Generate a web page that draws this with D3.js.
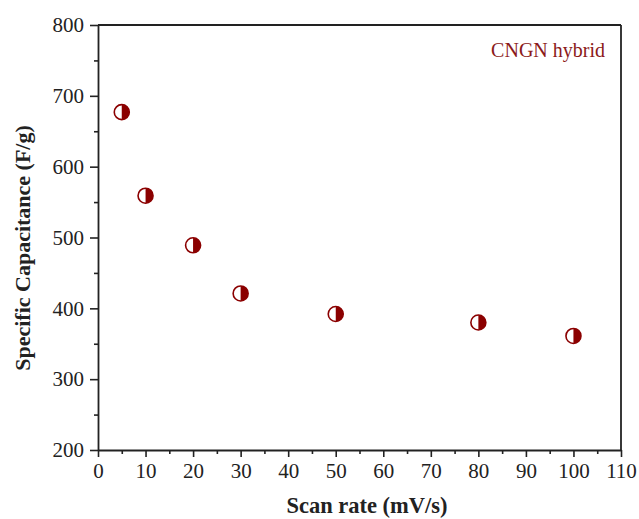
<!DOCTYPE html>
<html><head><meta charset="utf-8">
<script src="https://cdn.jsdelivr.net/npm/d3@7"></script>
<style>body{margin:0;background:#fff}svg{display:block}text{font-family:"Liberation Serif","Times New Roman",serif}</style>
</head><body>
<svg id="c" width="639" height="519"></svg>
<script>
const scanRate = [5, 10, 20, 30, 50, 80, 100];
const capacitance = [677, 559, 489, 421, 392, 380, 361];
const xTicks = [0,10,20,30,40,50,60,70,80,90,100,110];
const yTicks = [200,300,400,500,600,700,800];
const seriesName = "CNGN hybrid";

const svg = d3.select("#c");
const L = 98, R = 621, T = 25, B = 450;
const x = d3.scaleLinear().domain([0,110]).range([L,R]);
const y = d3.scaleLinear().domain([200,800]).range([B,T]);
const red = "#8b0000";

// minor ticks
const xMinor = d3.range(5,110,10);
const yMinor = d3.range(250,800,100);
svg.append("g").attr("transform",`translate(0,${B})`)
  .call(d3.axisBottom(x).tickValues(xMinor).tickSize(4).tickFormat(""))
  .call(g=>g.select(".domain").remove())
  .selectAll("line").attr("stroke","#222").attr("stroke-width",1.6);
svg.append("g").attr("transform",`translate(${L},0)`)
  .call(d3.axisLeft(y).tickValues(yMinor).tickSize(4).tickFormat(""))
  .call(g=>g.select(".domain").remove())
  .selectAll("line").attr("stroke","#222").attr("stroke-width",1.6);

const gx = svg.append("g").attr("transform",`translate(0,${B})`)
  .call(d3.axisBottom(x).tickValues(xTicks).tickSize(7).tickSizeOuter(0).tickPadding(6));
const gy = svg.append("g").attr("transform",`translate(${L},0)`)
  .call(d3.axisLeft(y).tickValues(yTicks).tickSize(8).tickSizeOuter(0).tickPadding(6));
[gx,gy].forEach(g=>{
  g.select(".domain").attr("stroke","#222").attr("stroke-width",1.8);
  g.selectAll(".tick line").attr("stroke","#222").attr("stroke-width",1.6);
  g.selectAll(".tick text").attr("font-size",21).attr("fill","#222")
   .style("font-family",'"Liberation Serif","Times New Roman",serif');
});
// top and right frame
svg.append("line").attr("x1",L).attr("x2",R).attr("y1",T).attr("y2",T).attr("stroke","#222").attr("stroke-width",1.8);
svg.append("line").attr("x1",R).attr("x2",R).attr("y1",T).attr("y2",B).attr("stroke","#222").attr("stroke-width",1.8);

// markers: half-filled circles (right half filled)
const r = 7.5;
const pts = svg.append("g").selectAll("g").data(scanRate.map((d,i)=>[d,capacitance[i]])).join("g")
  .attr("transform",d=>`translate(${x(d[0])},${y(d[1])})`);
pts.append("circle").attr("r",r).attr("fill","#fff");
pts.append("path").attr("d",`M0,${-r} A${r},${r} 0 0 1 0,${r} Z`).attr("fill",red);
pts.append("circle").attr("r",r).attr("fill","none").attr("stroke",red).attr("stroke-width",1.6);

svg.append("text").attr("x",605).attr("y",57).attr("text-anchor","end")
  .attr("font-size",20).attr("fill","#8b1a1a").text(seriesName);

svg.append("text").attr("x",367).attr("y",513).attr("text-anchor","middle")
  .attr("font-size",22.5).attr("font-weight","bold").attr("fill","#222").text("Scan rate (mV/s)");
svg.append("text").attr("transform","translate(30,248) rotate(-90)").attr("text-anchor","middle")
  .attr("font-size",22).attr("font-weight","bold").attr("fill","#222").text("Specific Capacitance (F/g)");
</script>
</body></html>
